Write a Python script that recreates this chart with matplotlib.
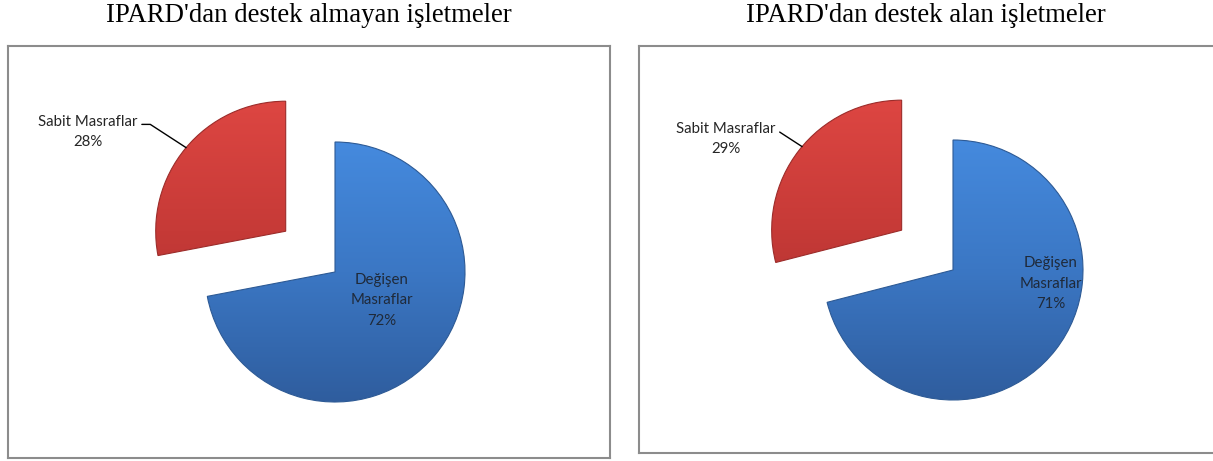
import numpy as np
import matplotlib
matplotlib.use("Agg")
import matplotlib.pyplot as plt
from matplotlib.colors import LinearSegmentedColormap

# data
titles = ["IPARD'dan destek almayan işletmeler", "IPARD'dan destek alan işletmeler"]
categories = ["Değişen\nMasraflar", "Sabit Masraflar"]
shares_left = [72, 28]
shares_right = [71, 29]

W, H = 1213, 461
fig = plt.figure(figsize=(W / 100, H / 100), dpi=100, facecolor="white")

blue_grad = LinearSegmentedColormap.from_list("b", ["#458ade", "#3b77c4", "#2f5d9e"])
red_grad = LinearSegmentedColormap.from_list("r", ["#dd4642", "#c63a37", "#a93030"])


def panel(box, title, shares, blue_xy, radius, explode, in_pos, out_pos, edge_ang):
    x0, x1, y0, y1 = box  # pixel box, y from top
    ax = fig.add_axes([x0 / W, (H - y1) / H, (x1 - x0) / W, (y1 - y0) / H])
    cx, cy = blue_xy[0], H - blue_xy[1]
    wedges, _ = ax.pie(shares, startangle=90, counterclock=False,
                       colors=["#3a74bf", "#c63a37"], radius=radius,
                       center=(cx, cy), explode=[0, explode], frame=True,
                       wedgeprops=dict(linewidth=0.8))
    wedges[0].set_edgecolor("#2d5a95")
    wedges[1].set_edgecolor("#9c2c2a")
    for w, cm in zip(wedges, [blue_grad, red_grad]):
        wx, wy = w.center
        im = ax.imshow(np.linspace(0, 1, 256).reshape(-1, 1), cmap=cm,
                       extent=(wx - radius, wx + radius, wy - radius, wy + radius),
                       origin="upper", aspect="auto", zorder=w.get_zorder() + 0.1)
        im.set_clip_path(w)
        w.set_zorder(w.get_zorder() + 0.2)
        w.set_facecolor("none")

    # inside label
    t1 = np.deg2rad(in_pos[1])
    ax.text(cx + in_pos[0] * radius * np.cos(t1), cy + in_pos[0] * radius * np.sin(t1),
            f"{categories[0]}\n{shares[0]}%", ha="center", va="center",
            family="Lato", fontsize=10.8, color="#1f2a3a", linespacing=1.6, zorder=5)

    # outside label with leader
    rx, ry = wedges[1].center
    ta = np.deg2rad(edge_ang)
    ax.annotate(f"{categories[1]}\n{shares[1]}%",
                xy=(rx + radius * np.cos(ta), ry + radius * np.sin(ta)),
                xytext=(out_pos[0], H - out_pos[1]), ha="center", va="center",
                family="Lato", fontsize=10.8, color="#262626", linespacing=1.6,
                arrowprops=dict(arrowstyle="-", color="black", lw=1.0,
                                relpos=(1.0, 0.72), shrinkA=1, shrinkB=0,
                                connectionstyle="angle,angleA=0,angleB=147,rad=0"),
                zorder=5)

    ax.set_xlim(x0, x1)
    ax.set_ylim(H - y1, H - y0)
    ax.set_aspect("auto")
    ax.set_xticks([])
    ax.set_yticks([])
    for s in ax.spines.values():
        s.set_color("#8c8c8c")
        s.set_linewidth(1.5)
    fig.text(((x0 + min(x1, W)) / 2) / W, 1 - 16 / H, title, ha="center", va="center",
             family="Liberation Serif", fontsize=19.3, color="black")


panel((8, 610, 46, 458), titles[0], shares_left, (335, 272), 130, 64,
      (0.42, -31), (88, 132), 140)
panel((639, 1230, 46, 453), titles[1], shares_right, (953, 270), 130, 65,
      (0.76, -8), (726, 139), 140)

fig.savefig("out.png", dpi=100, facecolor="white")
